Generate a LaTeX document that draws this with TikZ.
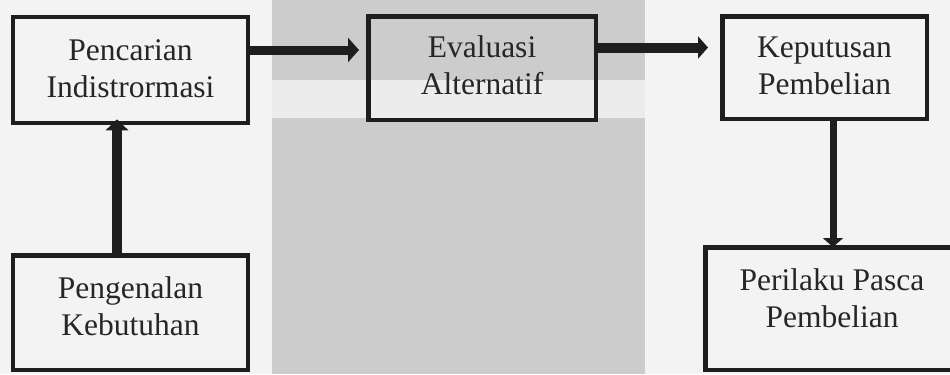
\documentclass[tikz,border=0pt]{standalone}
\usepackage{fontspec}
\setmainfont{Liberation Serif}
\usetikzlibrary{arrows.meta,calc}
\definecolor{bgwhite}{HTML}{F3F3F3}
\definecolor{panelgray}{HTML}{CCCCCC}
\definecolor{bandgray}{HTML}{ECECEC}
\definecolor{ink}{HTML}{1E1E1E}
\definecolor{txt}{HTML}{262626}
\tikzset{
  stagebox/.style={draw=ink, line width=4.5bp, minimum width=#1},
  lbl/.style={anchor=base, align=center, text=txt, inner sep=0pt,
    font=\fontsize{31.5bp}{37bp}\selectfont},
  flow/.style={draw=ink, line width=9bp,
    -{Triangle[length=11bp,width=24bp]}},
}
\begin{document}
\begin{tikzpicture}[x=1bp,y=-1bp]
\useasboundingbox (0,0) rectangle (950,374);
\begin{scope}
\clip (0,0) rectangle (950,374);
% background
\fill[bgwhite] (0,0) rectangle (950,374);
\fill[panelgray] (272,0) rectangle (645,80);
\fill[bandgray] (272,80) rectangle (645,118);
\fill[panelgray] (272,118) rectangle (645,374);

% boxes
\node[stagebox=234.5bp, minimum height=106bp] (pencarian) at (130.5,70) {};
\node[stagebox=227.5bp, minimum height=103.5bp] (evaluasi) at (482,68) {};
\node[stagebox=204.5bp, minimum height=102.5bp] (keputusan) at (824.5,67.5) {};
\node[stagebox=234.5bp, minimum height=114.5bp] (pengenalan) at (130.5,312.5) {};
\node[stagebox=255.5bp, minimum height=122.5bp] (perilaku) at (833,308.5) {};

% labels (base = baseline of last line)
\node[lbl] (pencarian-t) at (130.5,97) {Pencarian\\Indistrormasi};
\node[lbl] (evaluasi-t) at (482,94) {Evaluasi\\Alternatif};
\node[lbl] (keputusan-t) at (824.5,94) {Keputusan\\Pembelian};
\node[lbl] (pengenalan-t) at (130.5,335) {Pengenalan\\Kebutuhan};
\node[lbl] (perilaku-t) at (832,327) {Perilaku Pasca\\Pembelian};

% connectors
\coordinate (a1) at (0,50);
\coordinate (a2) at (0,47.5);
\coordinate (upx) at (117,0);
\draw[flow] (pencarian.east |- a1) -- ($(evaluasi.west |- a1)+(-7,0)$);
\draw[flow, line width=10bp, -{Triangle[length=10bp,width=22bp]}]
  (evaluasi.east |- a2) -- ($(keputusan.west |- a2)+(-12,0)$);
\draw[flow, line width=10bp, -{Triangle[length=11bp,width=22bp]}]
  (pengenalan.north -| upx) -- ($(pencarian.south -| upx)+(0,-6)$);
\draw[flow, line width=7bp, -{Triangle[length=9bp,width=20bp]}]
  (keputusan.south -| perilaku.north) -- ($(perilaku.north)+(0,2)$);
\end{scope}
\end{tikzpicture}
\end{document}
